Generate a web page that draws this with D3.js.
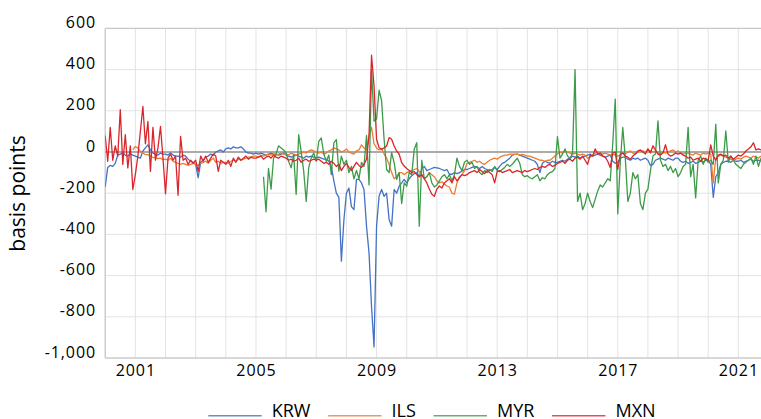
<!DOCTYPE html>
<html>
<head>
<meta charset="utf-8">
<script src="https://cdn.jsdelivr.net/npm/d3@7"></script>
<style>
  body { margin: 0; background: #fff; }
  svg { display: block; font-family: "Open Sans", sans-serif; }
</style>
</head>
<body>
<svg id="chart" width="761" height="419"></svg>
<script>
// monthly values, basis points
const krwValues = [
  -170, -75, -65, -70, -55, -15, -10, -5, -15, -20, -10, -15,
  -20, -25, -30, 5, 20, 35, 10, -5, -10, -15, -5, -10,
  -10, -15, -5, -15, -20, -20, -25, -15, -20, -35, -45, -50,
  -60, -125, -50, -40, -25, -20, -10, -15, 0, 5, 10, 0,
  15, 20, 15, 25, 20, 20, 25, 15, 0, -5, -5, -10,
  -5, -10, -5, -10, -15, -10, -5, -10, -10, -15, -10, -5,
  -15, -20, -25, -20, -15, -20, -25, -30, -20, -25, -20, -25,
  -30, -25, -30, -35, -35, -45, -70, -140, -200, -220, -530, -330,
  -200, -175, -265, -280, -133, -133, -150, -182, -360, -490, -750, -946,
  -360, -215, -182, -215, -200, -328, -360, -182, -200, -166, -150, -133,
  -150, -130, -115, -105, -100, -120, -80, -70, -90, -85, -80, -75,
  -77, -80, -85, -90, -85, -108, -108, -100, -105, -100, -93, -85,
  -85, -80, -75, -70, -75, -80, -70, -80, -85, -90, -85, -75,
  -85, -70, -55, -50, -40, -30, -15, -12, -10, -15, -20, -25,
  -30, -35, -40, -45, -60, -100, -55, -45, -50, -55, -45, -50,
  -50, -45, -40, -45, -35, -30, -20, -25, -20, -30, -25, -20,
  -15, -10, -20, -15, -10, -15, -20, -25, -20, -15, -45, -55,
  -50, -30, -25, -25, -35, -40, -30, -35, -30, -40, -35, -30,
  -40, -65, -60, -40, -35, -30, -35, -40, -30, -35, -40, -30,
  -30, -45, -50, -45, -55, -50, -45, -55, -50, -45, -50, -40,
  -40, -60, -220, -120, -100, -60, -50, -45, -45, -50, -40, -45,
  -45, -40, -50, -45, -40, -35, -45, -40, -40, -45
];
const ilsValues = [
  10,
  27, 19, 3, -5, -13, -13, -20, -26, -29, -32, -30, -37,
  -35, -40, -30, -45, -50, -55, -60, -55, -60, -65, -60, -55,
  -60, -65, -55, -50, -45, -55, -40, -30, -50, -45, -55, -50,
  -50, -55, -45, -40, -45, -35, -40, -35, -30, -25, -25, -20,
  -20, -25, -15, -20, -15, -10, -15, -10, -15, -10, -5, -10,
  -10, -15, -5, -10, -15, -10, -5, 0, -5, 5, 10, 5,
  0, -5, 0, -10, -5, 5, 10, 20, 15, 10, 0, 5,
  15, 0, -5, -10, 5, 10, 35, 20, 10, 80, 120, 40,
  20, 10, 15, -10, -30, -60, -100, -130, -120, -100, -100, -110,
  -100, -95, -90, -85, -80, -95, -110, -130, -120, -100, -110, -120,
  -140, -150, -145, -155, -165, -170, -200, -205, -150, -120, -110, -90,
  -55, -50, -45, -40, -50, -45, -55, -60, -50, -40, -35, -30,
  -35, -25, -20, -15, -15, -10, -10, -12, -10, -15, -12, -15,
  -20, -20, -25, -30, -35, -40, -40, -45, -40, -40, -30, -20,
  -10, 0, -5, 5, 0, -5, -10, -5, -10, -15, -10, -15,
  -30, -25, -15, -5, 0, -5, -10, -5, -10, -15, -10, -15,
  -20, -15, -5, -10, 0, 5, -5, -10, 0, 5, 5, 0,
  10, 5, 0, 5, -5, -10, 0, -5, 0, 5, 10, 0,
  5, -5, -10, -5, -5, -10, -15, -5, -10, -15, -5, -10,
  -5, -10, -150, -30, -20, -15, -20, -25, -30, -35, -40, -35,
  -30, -35, -25, -20, -25, -30, -20, -25, -30, -20
];
const myrValues = [
  -120, -290, -80, -180, -30, -10, 30, 20, 10,
  -5, -45, -77, -13, -206, 84, 3, -93, -240, -77, -29, -5,
  -45, 52, 68, -10, -45, -15, -110, 44, 60, -93, -20, -60,
  -40, -100, -70, -130, -90, -130, -50, -70, 80, -160, 400, 150,
  160, 300, 250, 62, -85, -100, -3, -52, -133, -100, -250, -150,
  -166, -100, -110, 13, 45, -360, -40, -130, -120, -100, -150, -170,
  -160, -140, -120, -110, -130, -110, -140, -110, -30, -70, -90, -50,
  -40, -60, -50, -80, -70, -100, -110, -90, -100, -85, -95, -70,
  -90, -95, -85, -75, -60, -70, -60, -45, -30, -55, -110, -120,
  -115, -125, -130, -120, -110, -140, -125, -130, -110, -100, -95, -80,
  75, -30, -10, 15, -20, -30, -5, 400, -240, -200, -280, -250,
  -200, -240, -270, -230, -190, -160, -170, -150, -130, -140, 40, 257,
  -300, -50, 119, -30, -240, -200, -100, -130, -110, -250, -280, -200,
  -180, -90, -20, -10, 151, -40, -70, -60, -90, -70, -100, -80,
  -120, -100, -70, -60, 119, -120, -60, -223, -40, -20, -60, -30,
  -50, -40, -60, 135, -150, -60, -40, 102, -50, -20, -40, -60,
  -70, -80, -60, -50, -40, -30, -60, -20, -70, -30
];
const mxnValues = [
  80, -45, 120, -40, 30, -20, 205, -60, 84, -77, 30, -182,
  -110, -20, 100, 221, 40, 148, -94, 120, -40, 20, 124, -30,
  -203, -30, -10, -40, -20, -210, 76, -40, -30, -60, -40, -55,
  -40, -94, -20, -45, -20, -50, -30, -10, -20, -94, -40, -50,
  -60, -40, -70, -30, -50, -25, -40, -30, -20, -35, -25, -30,
  -30, -25, -20, -35, -25, -20, -30, -15, -25, -30, -20, -25,
  -30, -40, -35, -45, -40, -30, -50, -40, -35, -45, -40, -35,
  -40, -35, -45, -55, -50, -60, -45, -55, -70, -60, -90, -70,
  -55, -75, -90, -70, -50, -65, -75, -60, -35, 80, 470, 320,
  62, 21, 13, 20, 29, 70, 62, 29, 5, -11, -52, -68,
  -80, -90, -100, -95, -110, -120, -110, -130, -150, -180, -205, -215,
  -180, -165, -175, -150, -140, -130, -150, -120, -140, -125, -110, -115,
  -110, -100, -95, -90, -100, -85, -95, -105, -90, -100, -110, -150,
  -95, -90, -100, -95, -90, -85, -100, -95, -90, -95, -100, -90,
  -95, -90, -85, -80, -85, -75, -70, -75, -65, -60, -70, -65,
  -55, -50, -45, -55, -40, -35, -45, -30, -25, -35, -20, -40,
  -60, -15, -20, 15, -10, -5, -20, -25, -45, -75, -5, 0,
  -85, -10, -5, -20, -25, -35, -20, -10, 5, 10, 0, -10,
  15, -5, 30, 10, -10, -15, -5, 35, -10, -20, -15, -5,
  -10, -5, -15, -20, -30, -25, -40, -35, -30, -45, -30, -35,
  -40, 35, -20, -40, -15, -10, -20, -15, -30, -20, -35, -25,
  -15, -20, -10, 5, 15, 25, 45, 10, 15, 10
];

const seriesNames = ["KRW", "ILS", "MYR", "MXN"];
const seriesStart = [2000, 2000 + 11/12, 2005 + 3/12, 2000];   // first month of each series
const seriesColors = ["#4472C4", "#ED7D31", "#3C9B48", "#D8262C"];
const yTicks = [600, 400, 200, 0, -200, -400, -600, -800, -1000];
const yearLabels = [2001, 2005, 2009, 2013, 2017, 2021];
const yearGrid = d3.range(2001, 2022);

const allValues = [krwValues, ilsValues, myrValues, mxnValues];
const series = seriesNames.map((name, i) => ({
  name: name,
  color: seriesColors[i],
  points: allValues[i].map((v, k) => ({t: seriesStart[i] + k/12, v: v}))
}));

const plot = {left: 105.2, right: 761, top: 28.4, bottom: 358};
const x = d3.scaleLinear().domain([2000, 2021.85]).range([plot.left, 764]);
const y = d3.scaleLinear().domain([-1000, 600]).range([plot.bottom, plot.top]);

const svg = d3.select("#chart");

/* grid */
svg.append("g").selectAll("line")
  .data(yTicks.filter(d => d !== 0 && d !== 600))
  .enter().append("line")
    .attr("x1", plot.left).attr("x2", plot.right)
    .attr("y1", d => y(d)).attr("y2", d => y(d))
    .attr("stroke", "#E3E3E3").attr("stroke-width", 1);

svg.append("g").selectAll("line")
  .data(yearGrid)
  .enter().append("line")
    .attr("x1", d => x(d)).attr("x2", d => x(d))
    .attr("y1", plot.top).attr("y2", plot.bottom)
    .attr("stroke", "#E3E3E3").attr("stroke-width", 1);

// border lines: top, left, bottom
svg.append("line").attr("x1", plot.left).attr("x2", plot.right)
  .attr("y1", y(600)).attr("y2", y(600)).attr("stroke", "#C8C8C8").attr("stroke-width", 1.2);
svg.append("line").attr("x1", plot.left).attr("x2", plot.left)
  .attr("y1", plot.top).attr("y2", plot.bottom).attr("stroke", "#C0C0C0").attr("stroke-width", 1.2);
svg.append("line").attr("x1", plot.left).attr("x2", plot.right)
  .attr("y1", plot.bottom).attr("y2", plot.bottom).attr("stroke", "#C0C0C0").attr("stroke-width", 1.2);
// zero line
svg.append("line").attr("x1", plot.left).attr("x2", plot.right)
  .attr("y1", y(0)).attr("y2", y(0)).attr("stroke", "#ABABAB").attr("stroke-width", 2);

/* axes */
const fmt = d => d3.format(",")(d).replace("\u2212", "-");
const yAxis = d3.axisLeft(y).tickValues(yTicks).tickFormat(fmt).tickSize(0).tickPadding(0);
const gy = svg.append("g").attr("transform", "translate(96,0)").call(yAxis);
gy.select(".domain").remove();
gy.selectAll("text")
  .attr("dy", -1)
  .attr("font-family", "Open Sans")
  .attr("font-size", 16)
  .attr("letter-spacing", 0.9)
  .attr("fill", "#000");

const xAxis = d3.axisBottom(x).tickValues(yearLabels).tickFormat(d3.format("d")).tickSize(0);
const gx = svg.append("g").attr("transform", "translate(0," + plot.bottom + ")").call(xAxis);
gx.select(".domain").remove();
gx.selectAll("text")
  .attr("y", 0).attr("dy", 18)
  .attr("font-family", "Open Sans")
  .attr("font-size", 16)
  .attr("letter-spacing", 0.9)
  .attr("fill", "#000");

svg.append("text").text("basis points")
  .attr("transform", "translate(25,193.5) rotate(-90)")
  .attr("text-anchor", "middle")
  .attr("font-size", 21)
  .attr("fill", "#000");

/* lines */
svg.append("clipPath").attr("id", "plotClip")
  .append("rect").attr("x", plot.left).attr("y", 0)
  .attr("width", plot.right - plot.left).attr("height", plot.bottom + 2);

const line = d3.line().x(d => x(d.t)).y(d => y(d.v));
svg.append("g").attr("clip-path", "url(#plotClip)")
  .selectAll("path")
  .data(series)
  .enter().append("path")
    .attr("d", d => line(d.points))
    .attr("fill", "none")
    .attr("stroke", d => d.color)
    .attr("stroke-width", 1.3)
    .attr("stroke-linejoin", "round");

/* legend */
let lx = 208.3;
series.forEach(function(s) {
  svg.append("line")
    .attr("x1", lx).attr("x2", lx + 53.4)
    .attr("y1", 415.7).attr("y2", 415.7)
    .attr("stroke", s.color).attr("stroke-width", 1.6).attr("stroke-opacity", 0.8);
  const t = svg.append("text").text(s.name)
    .attr("x", lx + 63.4).attr("y", 417)
    .attr("font-size", 18)
    .attr("fill", "#000");
  lx = lx + 63.4 + t.node().getComputedTextLength() + 17.7;
});
</script>
</body>
</html>
